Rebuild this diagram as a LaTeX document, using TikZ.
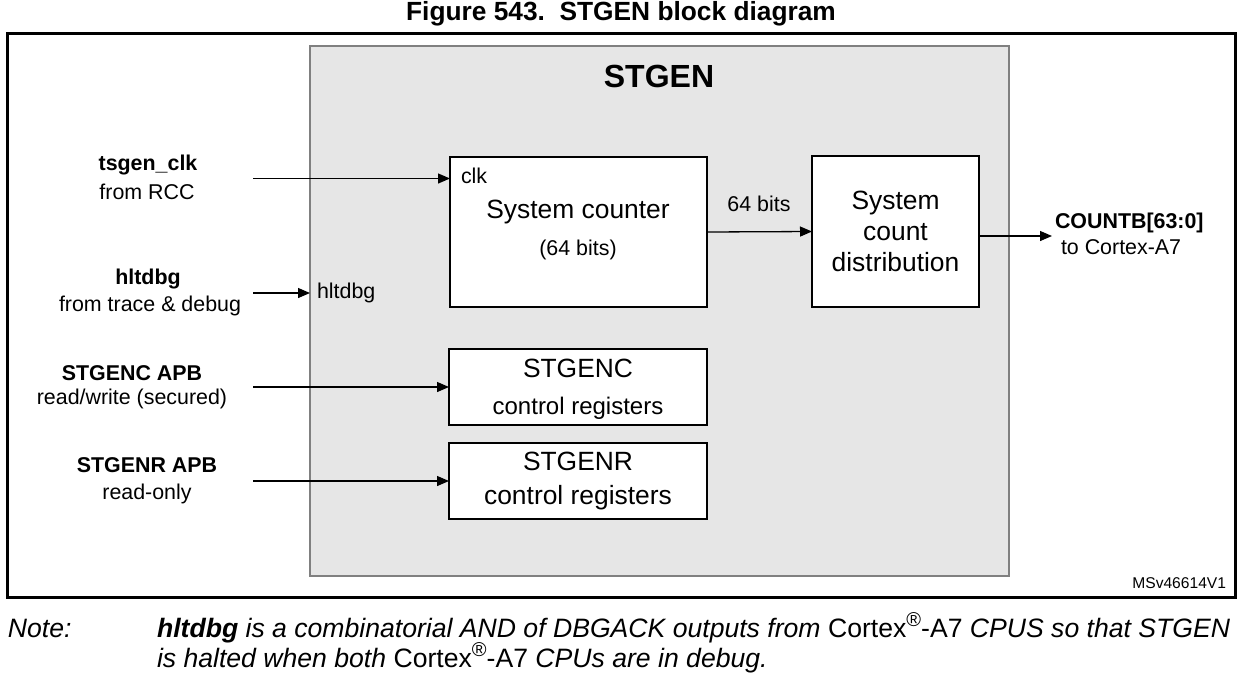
\documentclass[tikz,border=0pt]{standalone}
\usepackage{fontspec}
\setmainfont{Liberation Sans}
\usetikzlibrary{arrows.meta}
\definecolor{stgfill}{HTML}{E6E6E6}
\definecolor{stgline}{HTML}{808080}
\newcommand\fsz[2]{\fontsize{#1}{#2}\selectfont}
\newcommand\regmark{\raisebox{0.75ex}{\fontsize{20}{21}\selectfont ®}}
\begin{document}
\begin{tikzpicture}[x=1pt,y=-1pt,
  every node/.style={inner sep=0pt, outer sep=0pt},
  blk/.style={draw=black, line width=1.5pt, fill=white},
  arr/.style={line width=1.3pt, -{Triangle[length=12pt,width=10pt]}},
  lbl/.style={font=\fsz{21.4}{25}},
  lblb/.style={font=\bfseries\fsz{21.4}{25}},
  big/.style={font=\fsz{26.4}{31}, align=center},
  notef/.style={font=\itshape\fsz{26.6}{30}, anchor=base west},
]
\useasboundingbox (0,0) rectangle (1244,672);
% title
\node[font=\bfseries\fsz{26.3}{30}] (title) at (621,14) {Figure 543.\ \ STGEN block diagram};
% frame
\node[draw=black, line width=3pt, minimum width=1228pt, minimum height=564pt] (frame) at (621,315) {};
% STGEN block
\node[draw=stgline, fill=stgfill, line width=1.5pt, minimum width=699pt, minimum height=530pt] (stgen) at (659.5,311) {};
\node[font=\bfseries\fsz{32}{37}] (stgent) at (659,76) {STGEN};
% inner boxes
\node[blk, minimum width=257pt, minimum height=150pt] (sc) at (578.5,232) {};
\node[blk, minimum width=167pt, minimum height=151pt] (dist) at (895.5,231.5) {};
\node[blk, minimum width=258pt, minimum height=76pt] (rc) at (578,387) {};
\node[blk, minimum width=258pt, minimum height=76pt] (rr) at (578,481) {};
% box texts
\node[lbl, anchor=west] (clk) at (461,176) {clk};
\node[big] (sct) at (578,212) {System counter};
\node[lbl] (scb) at (578,250) {(64 bits)};
\node[big] (distt) at (895.5,231.5) {System\\count\\distribution};
\node[big] (rct) at (578,368) {STGENC};
\node[font=\fsz{24}{28}] (rcb) at (578,408) {control registers};
\node[big] (rrt) at (578,461) {STGENR};
\node[big] (rrb) at (578,498) {control registers};
\node[lbl, anchor=west] (hlt) at (317,293) {hltdbg};
\node[lbl] (bits) at (759,204) {64 bits};
% left labels
\node[lblb] (l1a) at (148,165) {tsgen\_clk};
\node[lbl] (l1b) at (147,192) {from RCC};
\node[lblb] (l2a) at (148,279) {hltdbg};
\node[lbl] (l2b) at (150,306) {from trace \& debug};
\node[lblb] (l3a) at (132,373) {STGENC APB};
\node[lbl] (l3b) at (132,399) {read/write (secured)};
\node[lblb] (l4a) at (147,465) {STGENR APB};
\node[lbl] (l4b) at (147,494) {read-only};
% right labels
\node[lblb, anchor=west] (cb) at (1055,223) {COUNTB[63:0]};
\node[lbl, anchor=west] (cbb) at (1061,247) {to Cortex-A7};
\node[font=\fsz{15.6}{18}, anchor=east] (ms) at (1226,583) {MSv46614V1};
% connector end points
\coordinate (i1) at (253,178.5);
\coordinate (i2) at (253,293);
\coordinate (i3) at (253,387);
\coordinate (i4) at (253,481);
\coordinate (o1) at (1052,236);
% connectors
\draw[arr] (i1) -- (i1 -| sc.west);
\draw[arr] (i2) -- (i2 -| stgen.west);
\draw[arr] (sc.east) -- (dist.west);
\draw[arr] (o1 -| dist.east) -- (o1);
\draw[arr] (i3) -- (rc.west);
\draw[arr] (i4) -- (rr.west);
% note
\node[notef] (note) at (8,637) {Note:};
\node[notef] (n1) at (157,637) {\textbf{hltdbg} is a combinatorial AND of DBGACK outputs from \textup{Cortex\regmark-A7} CPUS so that STGEN};
\node[notef] (n2) at (157,667) {is halted when both \textup{Cortex\regmark-A7} CPUs are in debug.};
\end{tikzpicture}
\end{document}
